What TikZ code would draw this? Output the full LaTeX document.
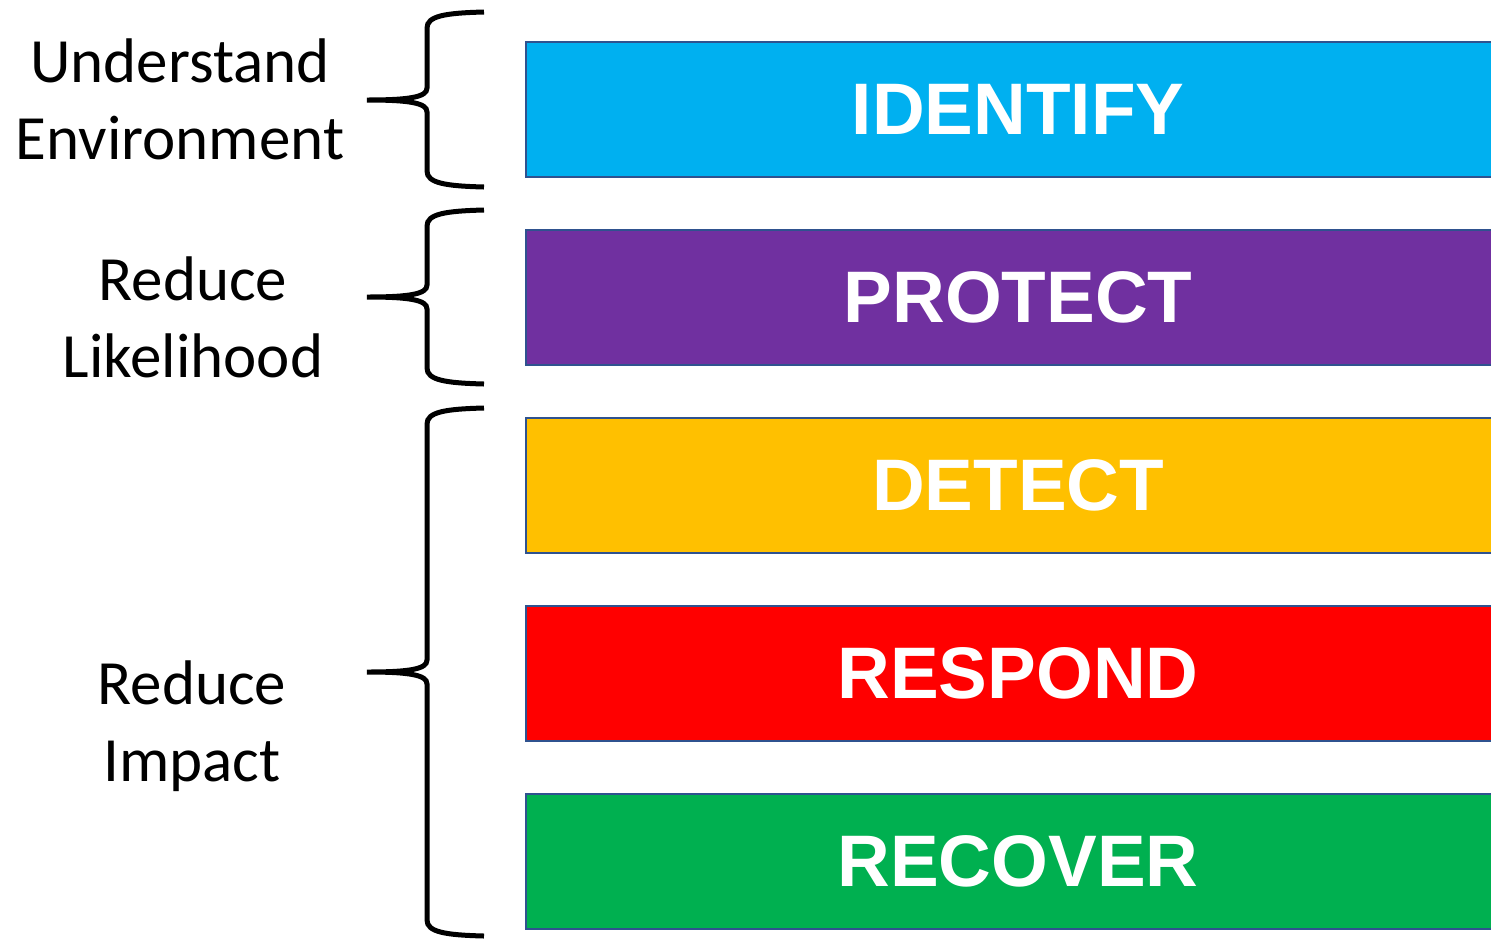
\documentclass[tikz,border=0pt]{standalone}
\usepackage{fontspec}
\setmainfont{Carlito}
\newfontfamily\barfont{Liberation Sans}
\definecolor{idcol}{HTML}{00B0F0}
\definecolor{prcol}{HTML}{7030A0}
\definecolor{decol}{HTML}{FFC000}
\definecolor{rscol}{HTML}{FF0000}
\definecolor{rccol}{HTML}{00B050}
\definecolor{edgecol}{HTML}{2F528F}
\tikzset{
  bar/.style={draw=edgecol, line width=2.5pt, minimum width=984pt, minimum height=135pt,
    inner sep=0pt, text=white, font=\barfont\bfseries\fontsize{73}{80}\selectfont},
  goal/.style={align=center, inner sep=0pt, font=\fontsize{63}{77}\selectfont},
  brace/.style={line width=5pt, line cap=butt}
}
\begin{document}
\begin{tikzpicture}[x=1pt, y=-1pt]
  \useasboundingbox (0,0) rectangle (1491,938);
  \clip (0,0) rectangle (1491,938);
  % the five functions
  \node[bar, fill=idcol] (a) at (1018,109.5) {IDENTIFY};
  \node[bar, fill=prcol] (b) at (1018,297.5) {PROTECT};
  \node[bar, fill=decol] (c) at (1018,485.5) {DETECT};
  \node[bar, fill=rscol] (d) at (1018,673.5) {RESPOND};
  \node[bar, fill=rccol] (e) at (1018,861.5) {RECOVER};
  % labels on the left
  \node[goal] (f) at (180,99) {Understand\\Environment};
  \node[goal] (g) at (193,317) {Reduce\\Likelihood};
  \node[goal] (h) at (192,726) {Reduce\\Impact};
  % braces
  \coordinate (f1) at (484,12);  \coordinate (f2) at (484,187); \coordinate (f3) at (367,100);
  \coordinate (g1) at (484,210); \coordinate (g2) at (484,384); \coordinate (g3) at (367,297);
  \coordinate (h1) at (484,408); \coordinate (h2) at (484,936); \coordinate (h3) at (367,672);
  \draw[brace] (f1) .. controls (445,13) and (427,16) .. (427,28) -- (427,88)
    .. controls (427,97) and (410,100) .. (f3) .. controls (410,100) and (427,103) .. (427,112)
    -- (427,171) .. controls (427,183) and (445,186) .. (f2);
  \draw[brace] (g1) .. controls (445,211) and (427,214) .. (427,226) -- (427,285)
    .. controls (427,294) and (410,297) .. (g3) .. controls (410,297) and (427,300) .. (427,309)
    -- (427,368) .. controls (427,380) and (445,383) .. (g2);
  \draw[brace] (h1) .. controls (445,409) and (427,412) .. (427,424) -- (427,660)
    .. controls (427,669) and (410,672) .. (h3) .. controls (410,672) and (427,675) .. (427,684)
    -- (427,920) .. controls (427,932) and (445,935) .. (h2);
\end{tikzpicture}
\end{document}
